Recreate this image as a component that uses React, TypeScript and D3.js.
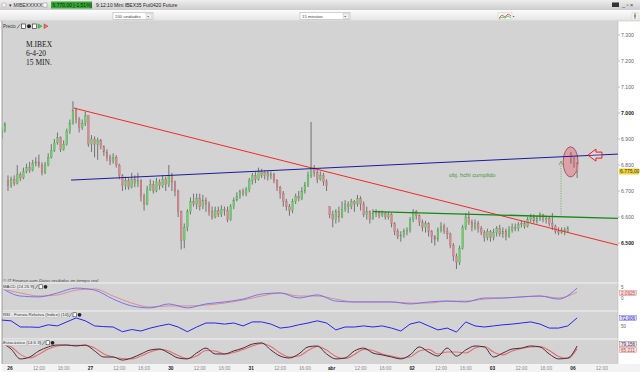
import React, { useEffect, useRef } from 'react';
import * as d3 from 'd3';

// eje temporal: velas de 30 min, 26 por sesion
const dayLabels = ['26', '27', '30', '31', 'abr', '02', '03', '06'];
const dayStarts = [2, 28, 54, 80, 106, 132, 158, 184];
const hourLabels = ['12:00', '16:00'];
const hourOffsets = [10, 18];
const priceTicks = [7300, 7200, 7100, 7000, 6900, 6800, 6700, 6600, 6500];
const boldTicks = [7000, 6500];

const closes = [
  6930, 6955,
  6720, 6745, 6730, 6765, 6750, 6775, 6790, 6780, 6805, 6812, 6800, 6770, 6800, 6830, 6855, 6885, 6905, 6860, 6880, 6930, 6960, 7010, 6975, 6945, 6960, 6990,
  6880, 6900, 6880, 6895, 6870, 6850, 6830, 6815, 6830, 6800, 6760, 6720, 6740, 6715, 6745, 6730, 6740, 6680, 6650, 6705, 6725, 6700, 6735, 6720, 6745, 6725,
  6760, 6735, 6700, 6620, 6510, 6560, 6620, 6660, 6650, 6670, 6640, 6665, 6650, 6620, 6600, 6625, 6610, 6630, 6625, 6590, 6640, 6665, 6680, 6700, 6690, 6705,
  6740, 6760, 6745, 6775, 6760, 6770, 6755, 6765, 6740, 6715, 6690, 6660, 6640, 6625, 6660, 6680, 6670, 6700, 6720, 6760, 6790, 6770, 6745, 6760, 6735, 6720,
  6610, 6590, 6620, 6600, 6630, 6650, 6640, 6660, 6650, 6670, 6650, 6610, 6620, 6590, 6615, 6620, 6605, 6615, 6600, 6610, 6575, 6545, 6525, 6530, 6545, 6550,
  6590, 6620, 6605, 6580, 6560, 6575, 6545, 6525, 6515, 6550, 6565, 6545, 6535, 6490, 6450, 6425, 6480, 6560, 6600, 6580, 6560, 6575, 6555, 6540, 6520, 6545,
  6520, 6540, 6555, 6535, 6545, 6525, 6550, 6560, 6555, 6570, 6575, 6565, 6590, 6600, 6585, 6595, 6610, 6590, 6595, 6575, 6565, 6545, 6540, 6550, 6545, 6555,
  6825, 6805, 6775,
];
const highs = [
  6940, 6965,
  6760, 6755, 6760, 6800, 6772, 6790, 6805, 6812, 6820, 6830, 6840, 6810, 6812, 6845, 6880, 6900, 6925, 6910, 6895, 6940, 6975, 7045, 7020, 6985, 6975, 7005,
  6990, 6915, 6910, 6905, 6900, 6875, 6860, 6840, 6845, 6838, 6805, 6765, 6755, 6750, 6770, 6760, 6770, 6745, 6690, 6720, 6745, 6740, 6750, 6745, 6760, 6755,
  6800, 6770, 6740, 6705, 6625, 6575, 6630, 6675, 6690, 6690, 6690, 6685, 6675, 6660, 6640, 6640, 6640, 6645, 6640, 6640, 6650, 6675, 6695, 6705, 6710, 6715,
  6750, 6770, 6775, 6790, 6785, 6780, 6778, 6775, 6770, 6745, 6720, 6700, 6670, 6650, 6670, 6690, 6700, 6715, 6735, 6775, 6965, 6800, 6780, 6775, 6770, 6745,
  6640, 6625, 6630, 6640, 6660, 6665, 6660, 6670, 6665, 6685, 6680, 6660, 6640, 6625, 6630, 6630, 6625, 6625, 6620, 6620, 6615, 6580, 6555, 6545, 6555, 6560,
  6600, 6630, 6627, 6610, 6590, 6585, 6580, 6550, 6530, 6560, 6580, 6575, 6560, 6540, 6500, 6460, 6490, 6570, 6615, 6622, 6590, 6590, 6585, 6565, 6550, 6555,
  6550, 6555, 6565, 6570, 6560, 6555, 6565, 6575, 6575, 6580, 6585, 6585, 6600, 6612, 6610, 6605, 6618, 6612, 6605, 6600, 6615, 6570, 6560, 6560, 6560, 6565,
  6850, 6830, 6810,
];
const lows = [
  6900, 6925,
  6700, 6712, 6720, 6725, 6738, 6745, 6768, 6770, 6775, 6795, 6790, 6760, 6765, 6795, 6825, 6850, 6878, 6850, 6855, 6875, 6920, 6955, 6960, 6925, 6935, 6950,
  6870, 6850, 6830, 6820, 6860, 6835, 6815, 6800, 6805, 6790, 6745, 6700, 6705, 6705, 6710, 6715, 6715, 6660, 6625, 6645, 6700, 6690, 6695, 6705, 6712, 6700,
  6715, 6700, 6680, 6600, 6475, 6480, 6545, 6610, 6640, 6630, 6625, 6630, 6620, 6605, 6590, 6595, 6600, 6600, 6605, 6580, 6585, 6630, 6660, 6670, 6680, 6680,
  6695, 6725, 6730, 6740, 6750, 6745, 6740, 6745, 6730, 6700, 6670, 6640, 6625, 6605, 6615, 6650, 6660, 6665, 6690, 6715, 6750, 6755, 6730, 6740, 6720, 6700,
  6595, 6560, 6575, 6580, 6595, 6620, 6615, 6630, 6620, 6640, 6625, 6600, 6590, 6575, 6590, 6600, 6595, 6600, 6590, 6590, 6560, 6530, 6515, 6505, 6520, 6530,
  6540, 6580, 6590, 6565, 6545, 6540, 6525, 6500, 6490, 6505, 6540, 6535, 6515, 6480, 6430, 6400, 6415, 6475, 6550, 6570, 6545, 6550, 6540, 6530, 6505, 6510,
  6505, 6510, 6525, 6525, 6520, 6510, 6520, 6540, 6545, 6545, 6560, 6555, 6560, 6580, 6575, 6575, 6585, 6580, 6575, 6565, 6550, 6535, 6530, 6535, 6530, 6540,
  6805, 6790, 6750,
];
// aperturas con hueco (inicio de sesion)
const gapBars = [0, 2, 106, 184];
const gapOpens = [6915, 6740, 6640, 6840];
const lastPrice = 6775;

// lineas dibujadas a mano: [indice vela, precio]
const redTrend = [[23.3, 7019], [199.2, 6492]];
const blueTrend = [[22.4, 6742], [199.2, 6842]];
const greenTrend = [[120, 6621], [199.2, 6595]];
const targetBar = 180.8;
const targetPrice = 6815;
const circleBar = 183.9;
const circlePrice = 6812;
const arrowBar = 189.5;
const arrowPrice = 6838;

// indicadores
const macdStep = 6;
const macdLine = [4.5, 0.9, 0.5, 2.3, 4.5, 3.6, -0.5, -3.6, -4.5, -2.7, -4.5, -2.7, -1.8, -0.5, 1.8, 2.3, 0, 1.4, -1.4, -1.8, -1.8, -1.8, -2.7, -1.8, -1.4, -1.8, 0, 0, 0.5, 0.9, -0.5, 4.5];
const macdSignal = [4.1, 2.3, 0.9, 1.4, 3.6, 4.1, 0.9, -2.3, -4.1, -3.6, -3.6, -3.2, -2.3, -0.9, 0.9, 2.3, 0.9, 0.9, -0.5, -1.8, -1.8, -1.8, -2.3, -2.3, -1.4, -1.4, -0.5, 0, 0.5, 0.9, 0, 2.7];
const oscStep = 3;
const rsiLine = [66, 64, 47, 47, 46, 53, 50, 61, 72, 64, 50, 48, 47, 34, 40, 36, 44, 50, 55, 47, 34, 47, 58, 58, 55, 58, 50, 61, 61, 55, 44, 47, 53, 58, 64, 58, 39, 47, 47, 50, 47, 50, 44, 36, 55, 61, 50, 39, 44, 33, 61, 50, 47, 50, 53, 55, 58, 61, 55, 44, 44, 50, 72];
const stochK = [95, 63, 11, 21, 53, 74, 84, 84, 79, 84, 53, 21, 21, 5, 16, 37, 58, 63, 42, 16, 11, 42, 68, 37, 37, 53, 68, 89, 95, 58, 26, 16, 37, 74, 79, 37, 11, 16, 53, 68, 42, 32, 21, 11, 32, 74, 47, 26, 68, 26, 58, 79, 74, 21, 42, 63, 68, 79, 74, 37, 11, 16, 79];
const stochD = [90, 75, 35, 16, 35, 63, 79, 84, 82, 82, 68, 37, 21, 13, 11, 26, 47, 61, 53, 29, 13, 26, 55, 53, 37, 45, 61, 79, 92, 76, 42, 21, 26, 55, 76, 58, 24, 13, 34, 61, 55, 37, 26, 16, 21, 53, 61, 37, 47, 47, 42, 68, 76, 47, 32, 53, 66, 74, 76, 55, 24, 13, 65];

const W = 640;
const H = 372;
const plotL = 2;
const plotR = 618;
const plotT = 21;
const mainB = 283;
const FONT = 'Liberation Sans, Arial, sans-serif';

export default function App() {
  const ref = useRef<SVGSVGElement>(null);

  useEffect(() => {
    const svg = d3.select(ref.current);
    svg.selectAll('*').remove();

    const x = d3.scaleLinear().domain([0, 200]).range([1.8, 620.4]);
    const y = d3.scaleLinear().domain([6400, 7300]).range([269, 35]);
    const macdY = d3.scaleLinear().domain([-5, 5]).range([309, 287]);
    const rsiY = d3.scaleLinear().domain([14, 91]).range([339, 311]);
    const stochY = d3.scaleLinear().domain([0, 100]).range([361, 342]);

    const defs = svg.append('defs');
    const grad = (id, a, b) => {
      const lg = defs.append('linearGradient').attr('id', id)
        .attr('x1', 0).attr('y1', 0).attr('x2', 0).attr('y2', 1);
      lg.append('stop').attr('offset', '0%').attr('stop-color', a);
      lg.append('stop').attr('offset', '100%').attr('stop-color', b);
    };
    grad('titleGrad', '#eeeeee', '#cdcdcd');
    grad('toolGrad', '#fcfcfc', '#e4e4e4');
    defs.append('clipPath').attr('id', 'mainClip')
      .append('rect').attr('x', plotL).attr('y', plotT + 8)
      .attr('width', plotR - plotL).attr('height', mainB - plotT - 8);
    defs.append('clipPath').attr('id', 'indClip')
      .append('rect').attr('x', plotL).attr('y', mainB)
      .attr('width', plotR - plotL).attr('height', 81);

    // fondo
    svg.append('rect').attr('width', W).attr('height', H).attr('fill', '#ffffff');

    // barra de titulo
    svg.append('rect').attr('width', W).attr('height', 10).attr('fill', 'url(#titleGrad)');
    svg.append('circle').attr('cx', 4).attr('cy', 5).attr('r', 2.2).attr('fill', '#f4f4f4').attr('stroke', '#999').attr('stroke-width', 0.5);
    svg.append('text').attr('x', 9).attr('y', 7).attr('font-size', 5).attr('font-family', FONT).attr('fill', '#333').text('▾ MIBEXXXXX');
    svg.append('rect').attr('x', 43).attr('y', 3).attr('width', 4).attr('height', 4).attr('fill', '#fff').attr('stroke', '#888').attr('stroke-width', 0.5);
    svg.append('rect').attr('x', 51).attr('y', 1.5).attr('width', 41).attr('height', 7).attr('fill', '#37a733');
    svg.append('text').attr('x', 52.5).attr('y', 7).attr('font-size', 5).attr('font-family', FONT).attr('fill', '#0c2a0c').text('6.770,00 [-1,51%]');
    svg.append('text').attr('x', 96).attr('y', 7).attr('font-size', 5).attr('font-family', FONT).attr('fill', '#222').text('9:12:10 Mini IBEX35 Fut0420 Future');
    svg.append('rect').attr('x', 612).attr('y', 2.5).attr('width', 7).attr('height', 4.5).attr('fill', '#333');
    svg.append('text').attr('x', 622).attr('y', 7).attr('font-size', 5.5).attr('font-family', FONT).attr('fill', '#333').text('_ ▫ ×');

    // barra de herramientas
    svg.append('rect').attr('y', 10).attr('width', W).attr('height', 11).attr('fill', 'url(#toolGrad)');
    svg.append('line').attr('x1', 0).attr('x2', W).attr('y1', 21).attr('y2', 21).attr('stroke', '#b8b8b8').attr('stroke-width', 0.5);
    const select = (x0, w, label) => {
      svg.append('rect').attr('x', x0).attr('y', 12.5).attr('width', w).attr('height', 7).attr('fill', '#fff').attr('stroke', '#aaa').attr('stroke-width', 0.5);
      svg.append('text').attr('x', x0 + 2).attr('y', 17.8).attr('font-size', 4.3).attr('font-family', FONT).attr('fill', '#444').text(label);
      svg.append('rect').attr('x', x0 + w - 7).attr('y', 13.5).attr('width', 6).attr('height', 5).attr('fill', '#eee').attr('stroke', '#bbb').attr('stroke-width', 0.4);
      svg.append('text').attr('x', x0 + w - 5.5).attr('y', 17.5).attr('font-size', 4).attr('fill', '#333').text('▪');
    };
    select(113, 40, '200 unidades');
    select(300, 50, '15 minutos');
    svg.append('rect').attr('x', 498).attr('y', 12.5).attr('width', 14).attr('height', 7).attr('fill', '#eef4ee').attr('stroke', '#ccc').attr('stroke-width', 0.4);
    svg.append('path').attr('d', 'M499,18 L502,15 L505,17 L508,14 L511,16').attr('fill', 'none').attr('stroke', '#d33').attr('stroke-width', 0.7);
    svg.append('path').attr('d', 'M499,19 L502,17 L505,18 L508,16 L511,18').attr('fill', 'none').attr('stroke', '#3a3').attr('stroke-width', 0.7);
    svg.append('text').attr('x', 513).attr('y', 18).attr('font-size', 4).attr('fill', '#333').text('▪');
    svg.append('rect').attr('x', 632).attr('y', 12).attr('width', 6).attr('height', 8).attr('fill', '#f4f4f4').attr('stroke', '#ccc').attr('stroke-width', 0.4);
    svg.append('line').attr('x1', 635).attr('x2', 635).attr('y1', 13).attr('y2', 19).attr('stroke', '#3a3').attr('stroke-width', 1);
    svg.append('line').attr('x1', 635).attr('x2', 635).attr('y1', 15).attr('y2', 17).attr('stroke', '#d33').attr('stroke-width', 1);

    // paneles
    svg.append('rect').attr('x', plotL).attr('y', plotT).attr('width', plotR - plotL).attr('height', 364 - plotT).attr('fill', '#d3d3d3');
    svg.append('rect').attr('x', plotL).attr('y', 364).attr('width', W - plotL).attr('height', 8).attr('fill', '#f3f3f3');
    [283, 311, 339].forEach(v => {
      svg.append('line').attr('x1', plotL).attr('x2', plotR).attr('y1', v).attr('y2', v).attr('stroke', '#f2f2f2').attr('stroke-width', 1);
    });
    svg.append('line').attr('x1', plotL).attr('x2', plotL).attr('y1', plotT).attr('y2', 364).attr('stroke', '#8a8a8a').attr('stroke-width', 0.8);
    svg.append('line').attr('x1', plotR).attr('x2', plotR).attr('y1', plotT).attr('y2', 364).attr('stroke', '#b0b0b0').attr('stroke-width', 0.5);

    // fila "Precio"
    svg.append('text').attr('x', 3).attr('y', 28).attr('font-size', 4.5).attr('font-family', FONT).attr('fill', '#333').text('Precio');
    svg.append('path').attr('d', 'M17,28.5 L20,24.5').attr('stroke', '#555').attr('stroke-width', 0.7);
    svg.append('rect').attr('x', 21.5).attr('y', 24).attr('width', 4).attr('height', 4.5).attr('fill', '#fff').attr('stroke', '#222').attr('stroke-width', 0.6);
    svg.append('circle').attr('cx', 29).attr('cy', 26.2).attr('r', 2).attr('fill', '#222');
    svg.append('rect').attr('x', 32.5).attr('y', 24).attr('width', 4).attr('height', 4.5).attr('fill', '#fff').attr('stroke', '#222').attr('stroke-width', 0.6);
    svg.append('path').attr('d', 'M38,23.8 L42,26.2 L38,28.6 Z').attr('fill', '#4c4').attr('stroke', '#282').attr('stroke-width', 0.4);
    svg.append('path').attr('d', 'M44,23.8 L48,26.2 L44,28.6 Z').attr('fill', '#f66').attr('stroke', '#a22').attr('stroke-width', 0.4);

    // notas arriba a la izquierda
    ['M.IBEX', '6-4-20', '15 MIN.'].forEach((t, k) => {
      svg.append('text').attr('x', 26).attr('y', 46.5 + k * 9).attr('font-size', 7.5)
        .attr('font-family', 'Liberation Serif, Times New Roman, serif').attr('fill', '#1a1a1a').text(t);
    });

    // eje de precios
    const axis = svg.append('g').attr('font-family', FONT);
    priceTicks.forEach(p => {
      axis.append('line').attr('x1', plotR).attr('x2', plotR + 2).attr('y1', y(p)).attr('y2', y(p)).attr('stroke', '#888').attr('stroke-width', 0.5);
      const bold = boldTicks.includes(p);
      axis.append('text').attr('x', 621).attr('y', y(p) + 1.8)
        .attr('font-size', 5.2).attr('font-weight', bold ? 'bold' : 'normal')
        .attr('fill', bold ? '#222' : '#666').text(d3.format(',')(p).replace(',', '.'));
    });
    axis.append('rect').attr('x', 619).attr('y', y(lastPrice) - 3).attr('width', 20).attr('height', 6).attr('fill', '#f0d236');
    axis.append('text').attr('x', 620).attr('y', y(lastPrice) + 1.8).attr('font-size', 5).attr('fill', '#333')
      .text(d3.format(',.2f')(lastPrice).replace(',', '#').replace('.', ',').replace('#', '.'));

    // precio principal
    const main = svg.append('g').attr('clip-path', 'url(#mainClip)');

    const cx = x(circleBar);
    const cy = y(circlePrice);
    main.append('ellipse').attr('cx', cx).attr('cy', cy)
      .attr('rx', x(circleBar + 2.4) - cx).attr('ry', y(circlePrice - 58) - cy)
      .attr('fill', 'rgba(226,128,140,0.6)').attr('stroke', '#9a4050').attr('stroke-width', 0.8);

    const bars = closes.map((c, i) => {
      const gi = gapBars.indexOf(i);
      const o = gi >= 0 ? gapOpens[gi] : closes[i - 1];
      return { i, o, c, h: Math.max(highs[i], o, c), l: Math.min(lows[i], o, c) };
    });
    const candle = main.selectAll('g.candle').data(bars).enter().append('g').attr('class', 'candle');
    candle.append('line')
      .attr('x1', d => x(d.i)).attr('x2', d => x(d.i))
      .attr('y1', d => y(d.h)).attr('y2', d => y(d.l))
      .attr('stroke', d => (d.h - d.l > 150 ? '#8c8c8c' : '#4a4a4a')).attr('stroke-width', d => (d.h - d.l > 150 ? 1.4 : 0.7));
    candle.append('rect')
      .attr('x', d => x(d.i) - 0.9).attr('width', 1.8)
      .attr('y', d => y(Math.max(d.o, d.c)))
      .attr('height', d => Math.max(0.8, Math.abs(y(d.o) - y(d.c))))
      .attr('fill', d => (d.c > d.o ? '#6ccf6c' : d.c < d.o ? '#d58a8e' : '#888'))
      .attr('stroke', d => (d.c > d.o ? '#4a9a4a' : '#a06266')).attr('stroke-width', 0.25);

    const seg = (pts, color, w) => {
      main.append('path')
        .attr('d', d3.line().x(d => x(d[0])).y(d => y(d[1]))(pts))
        .attr('fill', 'none').attr('stroke', color).attr('stroke-width', w);
    };
    seg(redTrend, '#f02a2a', 1);
    seg(blueTrend, '#1c1c9a', 1);
    seg(greenTrend, '#138a13', 1.3);

    const greenAt = d3.scaleLinear().domain([greenTrend[0][0], greenTrend[1][0]]).range([greenTrend[0][1], greenTrend[1][1]]);
    const tx = x(targetBar);
    main.append('line').attr('x1', tx).attr('x2', tx)
      .attr('y1', y(greenAt(targetBar))).attr('y2', y(targetPrice))
      .attr('stroke', '#3b9b3b').attr('stroke-width', 0.7).attr('stroke-dasharray', '1,1.5');
    main.append('path')
      .attr('d', `M${tx - 2},${y(targetPrice) + 4} L${tx},${y(targetPrice)} L${tx + 2},${y(targetPrice) + 4}`)
      .attr('fill', 'none').attr('stroke', '#3b9b3b').attr('stroke-width', 0.6);
    main.append('text').attr('x', 449).attr('y', 176.5).attr('font-size', 5.8).attr('font-family', FONT)
      .attr('fill', '#3a9a3a').text('obj. hchi cumplido');

    const ax = x(arrowBar);
    const ay = y(arrowPrice);
    main.append('path')
      .attr('d', `M${ax},${ay} L${ax + 8},${ay - 6} L${ax + 8},${ay - 3} L${ax + 14},${ay - 3} L${ax + 14},${ay + 3} L${ax + 8},${ay + 3} L${ax + 8},${ay + 6} Z`)
      .attr('fill', 'rgba(255,255,255,0.15)').attr('stroke', '#e41e1e').attr('stroke-width', 1);

    svg.append('text').attr('x', 3).attr('y', 281.5).attr('font-size', 4.4).attr('font-style', 'italic')
      .attr('font-family', FONT).attr('fill', '#444').text('© IT Finance.com  Datos recibidos en tiempo real');

    // indicadores
    const ind = svg.append('g').attr('clip-path', 'url(#indClip)');
    const draw = (vals, step, sy, color, w, curve) => {
      ind.append('path')
        .attr('d', d3.line().x((d, k) => x(k * step)).y(d => sy(d)).curve(curve)(vals))
        .attr('fill', 'none').attr('stroke', color).attr('stroke-width', w);
    };
    draw(macdSignal, macdStep, macdY, '#e08585', 0.9, d3.curveMonotoneX);
    draw(macdLine, macdStep, macdY, '#6b6bf0', 0.9, d3.curveMonotoneX);
    draw(rsiLine, oscStep, rsiY, '#2626e8', 1, d3.curveLinear);
    draw(stochD, oscStep, stochY, '#e07070', 1.1, d3.curveMonotoneX);
    draw(stochK, oscStep, stochY, '#4a2a3a', 1, d3.curveMonotoneX);

    const panelLabel = (y0, label, w) => {
      svg.append('rect').attr('x', 2.5).attr('y', y0).attr('width', w).attr('height', 5.5).attr('fill', '#e9e9e9').attr('stroke', '#a8a8a8').attr('stroke-width', 0.3);
      svg.append('text').attr('x', 3).attr('y', y0 + 4.4).attr('font-size', 4.3).attr('font-family', FONT).attr('fill', '#333').text(label);
      const ix = 2.5 + w + 1.5;
      svg.append('path').attr('d', `M${ix},${y0 + 5} L${ix + 3},${y0 + 1}`).attr('stroke', '#555').attr('stroke-width', 0.6);
      svg.append('rect').attr('x', ix + 4).attr('y', y0 + 0.8).attr('width', 3.6).attr('height', 4).attr('fill', '#fff').attr('stroke', '#222').attr('stroke-width', 0.5);
      svg.append('circle').attr('cx', ix + 10.5).attr('cy', y0 + 2.8).attr('r', 1.9).attr('fill', '#222');
    };
    panelLabel(284, 'MACD (24 26 9)', 31);
    panelLabel(312, 'RSI - Fuerza Relativa (Índice) (14)', 65);
    panelLabel(340, 'Estocástico (14 6 3)', 38);

    const sideText = (yy, t, color) => axis.append('text').attr('x', 621).attr('y', yy + 1.7).attr('font-size', 4.6).attr('fill', color).text(t);
    const sideBox = (yy, t, fill, color) => {
      axis.append('rect').attr('x', 619.5).attr('y', yy - 2.6).attr('width', 17).attr('height', 5.2).attr('fill', fill).attr('stroke', color).attr('stroke-width', 0.3);
      sideText(yy, t, color);
    };
    sideText(macdY(5), '5', '#666');
    sideText(macdY(0), '0', '#666');
    sideBox(293, '2,0925', '#f6dede', '#c05050');
    sideBox(318, '72,006', '#dcdcf8', '#3030c0');
    sideText(rsiY(50), '50', '#666');
    sideBox(344, '79,156', '#eee4ee', '#553344');
    sideBox(350, '65,211', '#f6dede', '#c05050');

    // eje temporal
    const tAxis = svg.append('g').attr('font-family', FONT).attr('font-size', 4.8);
    dayStarts.forEach((s, k) => {
      tAxis.append('text').attr('x', x(s) + 2).attr('y', 370).attr('text-anchor', 'middle')
        .attr('font-weight', 'bold').attr('fill', '#222').text(dayLabels[k]);
      hourOffsets.forEach((h, j) => {
        if (x(s + h) > 610) return;
        tAxis.append('text').attr('x', x(s + h)).attr('y', 370).attr('text-anchor', 'middle')
          .attr('fill', '#888').text(hourLabels[j]);
      });
    });
  }, []);

  return (
    <svg ref={ref} width={W} height={H}
      style={{ position: 'absolute', left: 0, top: 0, display: 'block' }} />
  );
}
